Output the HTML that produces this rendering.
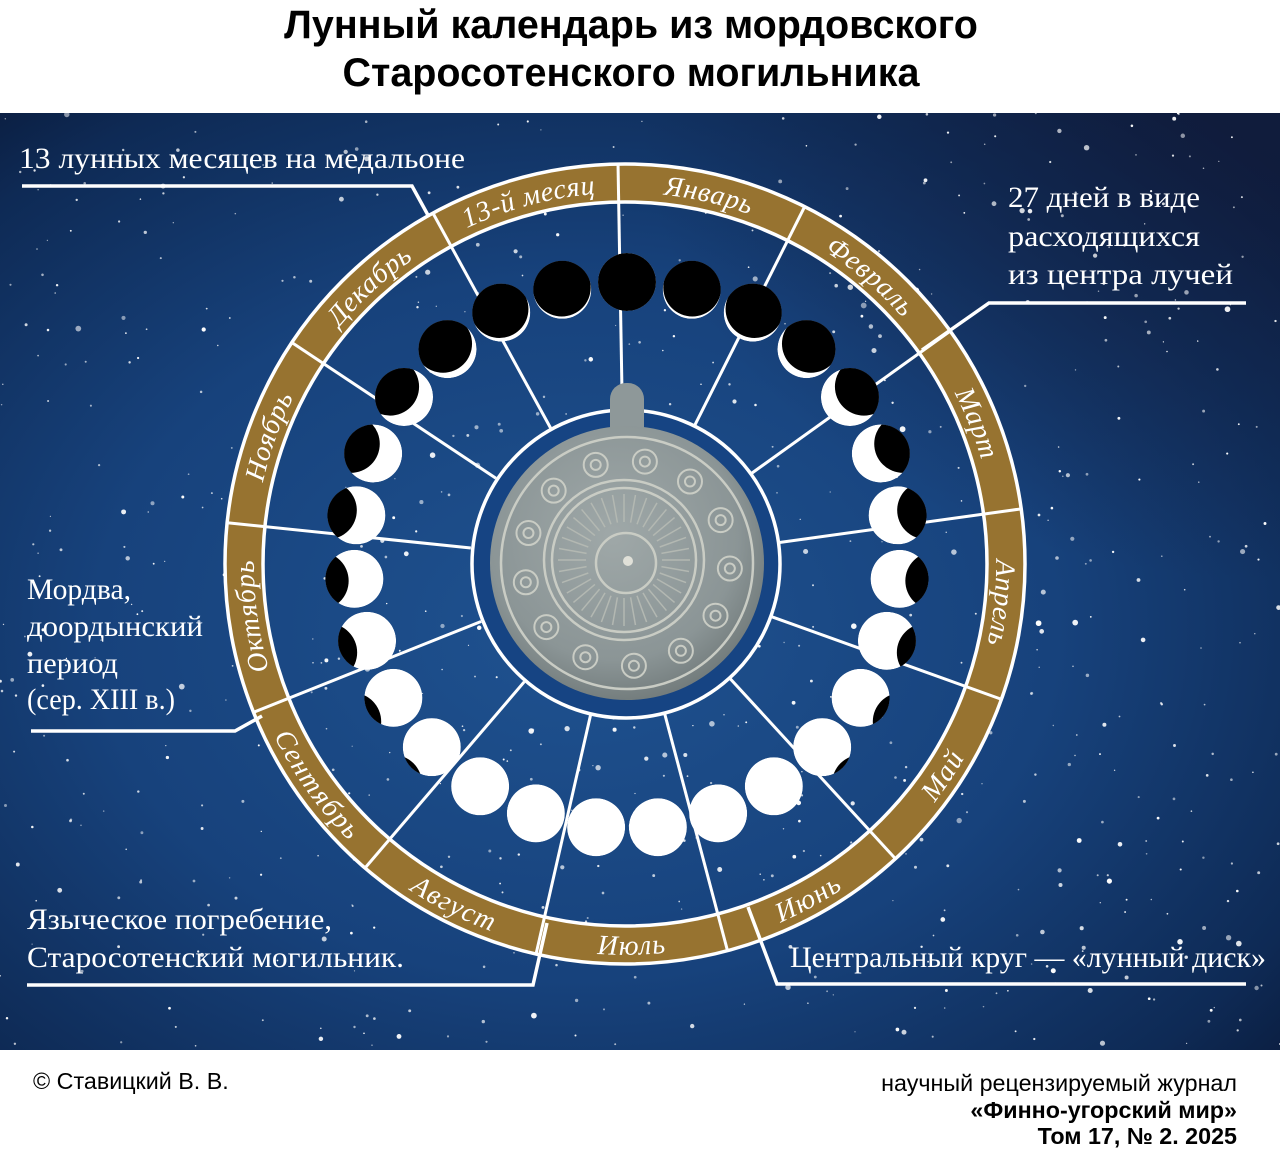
<!DOCTYPE html>
<html><head><meta charset="utf-8">
<style>
html,body{margin:0;padding:0;background:#fff;}
body{width:1280px;height:1163px;position:relative;overflow:hidden;font-family:"Liberation Sans",sans-serif;}
.title{position:absolute;left:0;width:1262px;top:1px;text-align:center;font-weight:bold;font-size:39.5px;line-height:48px;color:#000;}
.foot{position:absolute;font-size:23.3px;color:#000;}
svg{position:absolute;left:0;top:113px;}
</style></head><body>
<div class="title">Лунный календарь из мордовского<br>Старосотенского могильника</div>
<svg id="s" width="1280" height="937" viewBox="0 113 1280 937" xmlns="http://www.w3.org/2000/svg">
<defs>
<radialGradient id="bg" cx="0.45" cy="0.55" r="0.75">
<stop offset="0" stop-color="#1f5290"/>
<stop offset="0.5" stop-color="#17427c"/>
<stop offset="0.85" stop-color="#0e2a55"/>
<stop offset="1" stop-color="#0a1a3a"/>
</radialGradient>
<radialGradient id="tr" cx="1" cy="0" r="0.5">
<stop offset="0" stop-color="#111c3c" stop-opacity="0.85"/>
<stop offset="1" stop-color="#111c3c" stop-opacity="0"/>
</radialGradient>
<radialGradient id="coin" cx="0.45" cy="0.4" r="0.65">
<stop offset="0" stop-color="#9fa8a8"/>
<stop offset="0.7" stop-color="#8b9596"/>
<stop offset="1" stop-color="#6d7676"/>
</radialGradient>
</defs>
<rect x="0" y="113" width="1280" height="937" fill="url(#bg)"/>
<rect x="0" y="113" width="1280" height="937" fill="url(#tr)"/>
<g id="stars" fill="#fff"></g>
<g id="ring"></g>
<g id="spokes" stroke="#fff" stroke-width="3"></g>
<circle cx="626" cy="564" r="154" fill="#164483" stroke="#fff" stroke-width="3.5"/>
<rect x="610" y="383" width="34" height="60" rx="16" fill="#8e9899"/>
<circle cx="627" cy="563" r="137" fill="url(#coin)"/>
<g fill="none" stroke="#c9ccc4" stroke-width="2.5">
<circle cx="627" cy="563" r="126"/>
<circle cx="624" cy="560" r="80"/>
<circle cx="624" cy="560" r="72"/>
<circle cx="626" cy="563" r="30"/>
</g>
<g id="deco" fill="none" stroke="#c9ccc4" stroke-width="2"></g>
<circle cx="628" cy="561" r="5" fill="#e0e0d8"/>
<g id="moons"></g>
<g id="labels" fill="#fff" font-family="Liberation Serif, serif" font-style="italic" font-size="28"></g>
<g stroke="#fff" stroke-width="3.5" fill="none">
<polyline points="22,186 412,186 429,217"/>
<polyline points="1246,303 989,303 922,350"/>
<polyline points="31,731 235,731 262,716"/>
<polyline points="27,985 533,985 547,923"/>
<polyline points="1246,984 777,984 748,907"/>
</g>
<g fill="#fff" font-family="Liberation Serif, serif" font-size="30">
<text x="19" y="168" textLength="446" lengthAdjust="spacingAndGlyphs">13 лунных месяцев на медальоне</text>
<text x="1008" y="207" textLength="192" lengthAdjust="spacingAndGlyphs">27 дней в виде</text>
<text x="1008" y="246" textLength="192" lengthAdjust="spacingAndGlyphs">расходящихся</text>
<text x="1008" y="284" textLength="225" lengthAdjust="spacingAndGlyphs">из центра лучей</text>
<text x="27" y="599" textLength="104" lengthAdjust="spacingAndGlyphs">Мордва,</text>
<text x="27" y="636" textLength="176" lengthAdjust="spacingAndGlyphs">доордынский</text>
<text x="27" y="673" textLength="91" lengthAdjust="spacingAndGlyphs">период</text>
<text x="27" y="709" textLength="148" lengthAdjust="spacingAndGlyphs">(сер. XIII в.)</text>
<text x="27" y="929" textLength="305" lengthAdjust="spacingAndGlyphs">Языческое погребение,</text>
<text x="27" y="967" textLength="377" lengthAdjust="spacingAndGlyphs">Старосотенский могильник.</text>
<text x="790" y="967" textLength="476" lengthAdjust="spacingAndGlyphs">Центральный круг — «лунный диск»</text>
</g>
</svg>
<div class="foot" style="left:33px;top:1068px;">© Ставицкий В. В.</div>
<div class="foot" style="right:43px;top:1070px;text-align:right;line-height:26.5px;">научный рецензируемый журнал<br><b>«Финно-угорский мир»</b><br><b>Том 17, № 2. 2025</b></div>
<script>
var NS="http://www.w3.org/2000/svg";
function el(t,a,p){var e=document.createElementNS(NS,t);for(var k in a)e.setAttribute(k,a[k]);p.appendChild(e);return e;}
var cx=625,cy=564;
var seed=7;function rnd(){seed=(seed*16807)%2147483647;return seed/2147483647;}
var st=document.getElementById('stars');
for(var i=0;i<800;i++){var x=rnd()*1280,y=113+rnd()*937;var r=rnd()<0.8?0.6+rnd()*0.9:1.6+rnd()*1.3;el('circle',{cx:x.toFixed(1),cy:y.toFixed(1),r:r.toFixed(2),opacity:(0.5+rnd()*0.5).toFixed(2)},st);}
var ring=document.getElementById('ring');
el('circle',{cx:cx,cy:cy,r:381,fill:'none',stroke:'#977330','stroke-width':38},ring);
el('circle',{cx:cx,cy:cy,r:400,fill:'none',stroke:'#fff','stroke-width':3.5},ring);
el('circle',{cx:cx,cy:cy,r:362,fill:'none',stroke:'#fff','stroke-width':3.5},ring);
var step=360/13,off=-1;
function pt(a,r){var t=a*Math.PI/180;return [cx+r*Math.sin(t),cy-r*Math.cos(t)];}
var sp=document.getElementById('spokes');
for(var k=0;k<13;k++){var a=k*step+off;var p1=pt(a,155),p2=pt(a,401);el('line',{x1:p1[0],y1:p1[1],x2:p2[0],y2:p2[1]},sp);}
var names=['Январь','Февраль','Март','Апрель','Май','Июнь','Июль','Август','Сентябрь','Октябрь','Ноябрь','Декабрь','13-й месяц'];
var lab=document.getElementById('labels');var defs=document.querySelector('defs');
for(var k=0;k<13;k++){var a1=k*step+off,a2=(k+1)*step+off;var flip=(k>=4&&k<=8);var R=381;var d;
var p1=pt(a1,R),p2=pt(a2,R);
if(!flip)d='M'+p1[0]+' '+p1[1]+' A'+R+' '+R+' 0 0 1 '+p2[0]+' '+p2[1];
else d='M'+p2[0]+' '+p2[1]+' A'+R+' '+R+' 0 0 0 '+p1[0]+' '+p1[1];
el('path',{id:'lp'+k,d:d,fill:'none'},defs);
var t=el('text',{dy:'0.35em','letter-spacing':'1'},lab);var tp=el('textPath',{href:'#lp'+k,startOffset:'50%','text-anchor':'middle'},t);tp.setAttributeNS('http://www.w3.org/1999/xlink','xlink:href','#lp'+k);tp.textContent=names[k];}
var dc=document.getElementById('deco');
for(var i=0;i<13;i++){var a=i*360/13+10;var p=pt(a,103);el('circle',{cx:p[0]+2,cy:p[1]-1,r:12},dc);el('circle',{cx:p[0]+2,cy:p[1]-1,r:5},dc);}
for(var i=0;i<36;i++){var a=i*10;var t=a*Math.PI/180;el('line',{x1:624+38*Math.sin(t),y1:560-38*Math.cos(t),x2:624+66*Math.sin(t),y2:560-66*Math.cos(t),'stroke-width':1.5,stroke:'#b3b8b2'},dc);}
var mg=document.getElementById('moons');
var wf=[0,0.04,0.07,0.12,0.3,0.42,0.5,0.6,0.7,0.82,0.92,1,1,1,1];
var rm=29;
for(var i=0;i<27;i++){var a=i*360/27;var t=a*Math.PI/180;var R=273.5+7.5*Math.cos(t);
var x=627+R*Math.sin(t),y=563-R*Math.cos(t);var k=Math.min(i,27-i);var w=wf[k];
var cp=el('clipPath',{id:'mc'+i},defs);el('circle',{cx:x,cy:y,r:rm},cp);
var g=el('g',{'clip-path':'url(#mc'+i+')'},mg);
el('circle',{cx:x,cy:y,r:rm,fill:'#fff'},g);
if(w<1){var dd=2*rm*w;el('circle',{cx:x+dd*Math.sin(t),cy:y-dd*Math.cos(t),r:rm,fill:'#000'},g);}
}
</script>
</body></html>
